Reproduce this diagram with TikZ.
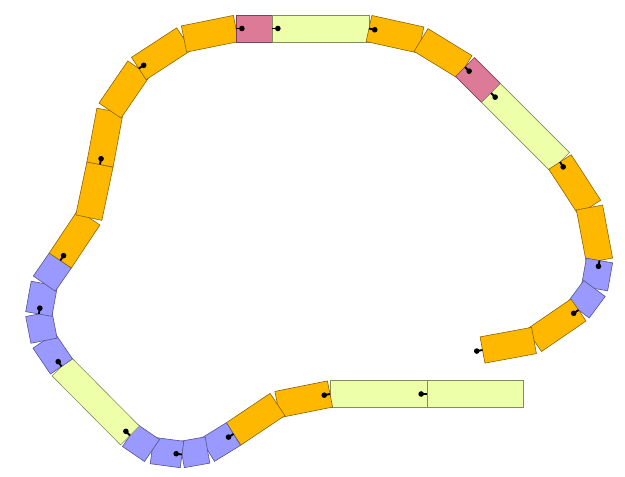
\documentclass[tikz,border=0pt]{standalone}
\usepackage{tikz}
\usetikzlibrary{calc}
\definecolor{corange}{RGB}{255,184,0}
\definecolor{cviolet}{RGB}{153,153,255}
\definecolor{crose}{RGB}{221,122,152}
\definecolor{palelime}{RGB}{238,255,170}

% one link of the chain: from joint, to joint, colour
\newcommand{\chainseg}[3]{%
  \filldraw[seg, fill=#3, draw=#3!55!black]
    ($(#1)!10pt!90:(#2)$) -- ($(#1)!10pt!-90:(#2)$) --
    ($(#2)!10pt!90:(#1)$) -- ($(#2)!10pt!-90:(#1)$) -- cycle;}
% pin at a joint, pointing towards the next joint
\newcommand{\chainpin}[2]{%
  \draw[pinstem] (#1) -- ($(#1)!4.4pt!(#2)$);
  \fill ($(#1)!4.4pt!(#2)$) circle[radius=2.1pt];}

\begin{document}
\begin{tikzpicture}[
    x=0.75pt, y=-0.75pt,
    seg/.style={line width=0.45pt, line join=miter},
    pinstem/.style={line width=1.4pt},
]
    \useasboundingbox (0,0) rectangle (625,477);

    % Joints, bottom right end first
    \coordinate (p0) at (523,394);
    \coordinate (p1) at (427,394);
    \coordinate (p2) at (330,394);
    \coordinate (p3) at (277.5,404.5);
    \coordinate (p4) at (233.5,434);
    \coordinate (p5) at (207.5,450);
    \coordinate (p6) at (182,454.5);
    \coordinate (p7) at (152,450.5);
    \coordinate (p8) at (130,435.5);
    \coordinate (p9) at (61.5,366.5);
    \coordinate (p10) at (44,340.7);
    \coordinate (p11) at (38.8,314);
    \coordinate (p12) at (44.3,283.6);
    \coordinate (p13) at (60.3,260.5);
    \coordinate (p14) at (88.8,217.6);
    \coordinate (p15) at (100,164.5);
    \coordinate (p16) at (110,110.6);
    \coordinate (p17) at (138.8,68.5);
    \coordinate (p18) at (184,39);
    \coordinate (p19) at (236,28.5);
    \coordinate (p20) at (272,28.5);
    \coordinate (p21) at (369,28.5);
    \coordinate (p22) at (421,40);
    \coordinate (p23) at (465,67);
    \coordinate (p24) at (491,93);
    \coordinate (p25) at (560,162);
    \coordinate (p26) at (589.5,207.5);
    \coordinate (p27) at (599.5,260.5);
    \coordinate (p28) at (594.5,288.5);
    \coordinate (p29) at (578.5,310);
    \coordinate (p30) at (534,340.5);
    \coordinate (p31) at (482.5,350);
    \coordinate (tail) at ($(p31)!-1!(p30)$);

    % Bottom run
    \chainseg{p0}{p1}{palelime}
    \chainseg{p1}{p2}{palelime}
    \chainseg{p2}{p3}{corange}
    \chainseg{p3}{p4}{corange}
    \chainseg{p4}{p5}{cviolet}
    \chainseg{p5}{p6}{cviolet}
    \chainseg{p6}{p7}{cviolet}
    \chainseg{p7}{p8}{cviolet}
    \chainseg{p8}{p9}{palelime}

    % Left side
    \chainseg{p9}{p10}{cviolet}
    \chainseg{p10}{p11}{cviolet}
    \chainseg{p11}{p12}{cviolet}
    \chainseg{p12}{p13}{cviolet}
    \chainseg{p13}{p14}{corange}
    \chainseg{p14}{p15}{corange}
    \chainseg{p15}{p16}{corange}
    \chainseg{p16}{p17}{corange}

    % Top
    \chainseg{p17}{p18}{corange}
    \chainseg{p18}{p19}{corange}
    \chainseg{p19}{p20}{crose}
    \chainseg{p20}{p21}{palelime}
    \chainseg{p21}{p22}{corange}
    \chainseg{p22}{p23}{corange}
    \chainseg{p23}{p24}{crose}
    \chainseg{p24}{p25}{palelime}

    % Right side
    \chainseg{p25}{p26}{corange}
    \chainseg{p26}{p27}{corange}
    \chainseg{p27}{p28}{cviolet}
    \chainseg{p28}{p29}{cviolet}
    \chainseg{p29}{p30}{corange}
    \chainseg{p30}{p31}{corange}

    % Pins
    \chainpin{p1}{p2}
    \chainpin{p2}{p3}
    \chainpin{p4}{p5}
    \chainpin{p6}{p7}
    \chainpin{p8}{p9}
    \chainpin{p9}{p10}
    \chainpin{p11}{p12}
    \chainpin{p13}{p14}
    \chainpin{p15}{p16}
    \chainpin{p17}{p18}
    \chainpin{p19}{p20}
    \chainpin{p20}{p21}
    \chainpin{p21}{p22}
    \chainpin{p23}{p24}
    \chainpin{p24}{p25}
    \chainpin{p25}{p26}
    \chainpin{p27}{p28}
    \chainpin{p29}{p30}
    \chainpin{p31}{tail}
\end{tikzpicture}
\end{document}
